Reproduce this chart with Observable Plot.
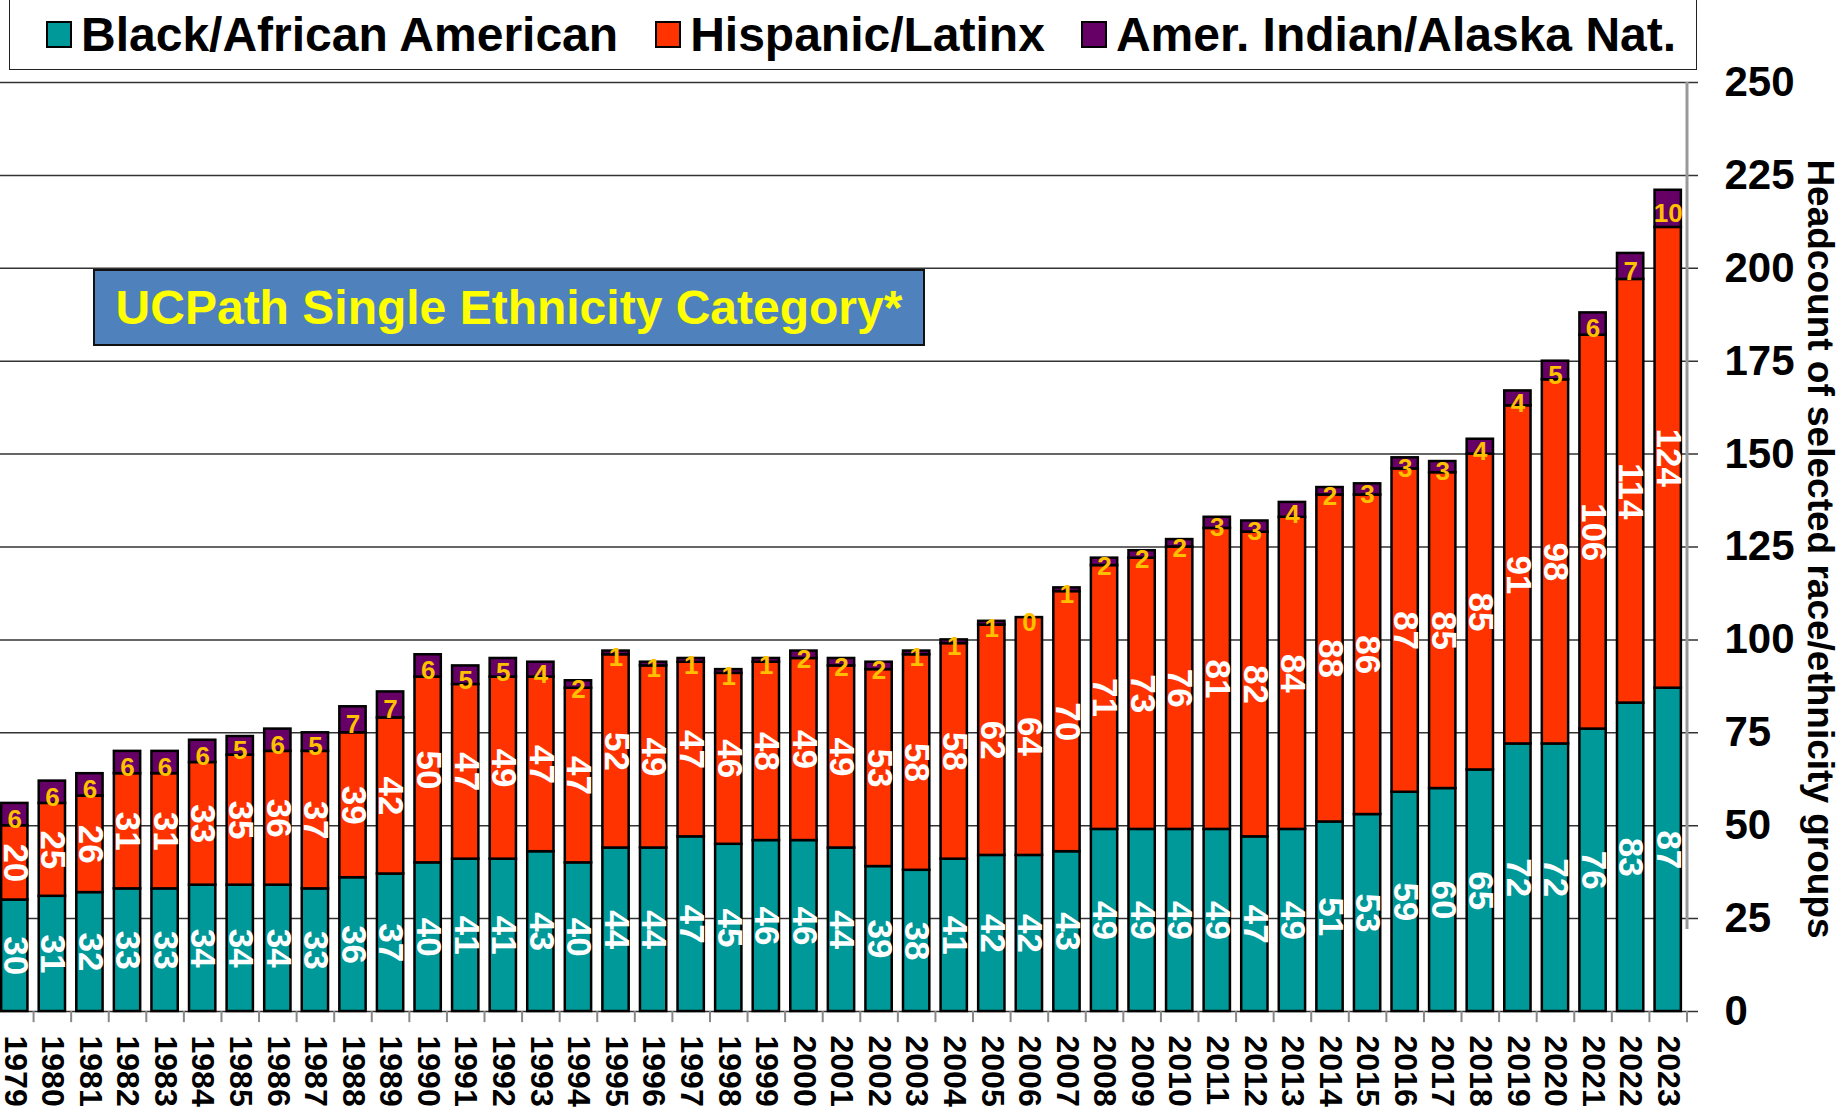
<!DOCTYPE html>
<html>
<head>
<meta charset="utf-8">
<script src="https://cdn.jsdelivr.net/npm/d3@7"></script>
<script src="https://cdn.jsdelivr.net/npm/@observablehq/plot@0.6"></script>
<style>
  html, body { margin: 0; padding: 0; background: #fff; }
  #wrap { position: relative; width: 1839px; height: 1110px; font-family: "Liberation Sans", Arial, sans-serif; }
  #legend { position: absolute; left: 9px; top: -2px; width: 1688px; height: 72px; border: 1.5px solid #222; background: #fff;
            display: flex; align-items: center; box-sizing: border-box; font-weight: bold; font-size: 48px; color: #000; }
  .item { display: flex; align-items: center; }
  .sw { width: 26px; height: 27px; border: 2px solid #000; box-sizing: border-box; margin-right: 9px; }
  #note { position: absolute; left: 93px; top: 269px; width: 832px; height: 77px; background: #4F81BD; border: 2px solid #111;
          box-sizing: border-box; display: flex; align-items: center; justify-content: center;
          color: #FFFF00; font-weight: bold; font-size: 48px; }
</style>
</head>
<body>
<div id="wrap">
  <div id="chart"></div>
  <div id="legend"></div>
  <div id="note"></div>
</div>
<script>
const years = ["1979","1980","1981","1982","1983","1984","1985","1986","1987","1988","1989","1990","1991","1992","1993","1994","1995","1996","1997","1998","1999","2000","2001","2002","2003","2004","2005","2006","2007","2008","2009","2010","2011","2012","2013","2014","2015","2016","2017","2018","2019","2020","2021","2022","2023"];
const black = [30,31,32,33,33,34,34,34,33,36,37,40,41,41,43,40,44,44,47,45,46,46,44,39,38,41,42,42,43,49,49,49,49,47,49,51,53,59,60,65,72,72,76,83,87];
const hispanic = [20,25,26,31,31,33,35,36,37,39,42,50,47,49,47,47,52,49,47,46,48,49,49,53,58,58,62,64,70,71,73,76,81,82,84,88,86,87,85,85,91,98,106,114,124];
const aian = [6,6,6,6,6,6,5,6,5,7,7,6,5,5,4,2,1,1,1,1,1,2,2,2,1,1,1,0,1,2,2,2,3,3,4,2,3,3,3,4,4,5,6,7,10];
const groups = ["Black/African American", "Hispanic/Latinx", "Amer. Indian/Alaska Nat."];
const colors = ["#009999", "#FF3300", "#660066"];
const yTicks = [0,25,50,75,100,125,150,175,200,225,250];
const yTitle = "Headcount of selected race/ethnicity groups";
const noteText = "UCPath Single Ethnicity Category*";

const series = [black, hispanic, aian];
const data = [];
years.forEach((yr, i) => groups.forEach((g, k) => data.push({year: yr, group: g, value: series[k][i]})));

const step = 1691 / 45;
const font = "'Liberation Sans', Arial, sans-serif";

const chart = Plot.plot({
  width: 1839,
  height: 1110,
  marginLeft: 0,
  marginRight: 153,
  marginTop: 82,
  marginBottom: 99,
  style: {fontFamily: font, background: "white", overflow: "visible"},
  x: {domain: years, range: [-4.5, 1686.5], round: false, paddingInner: 0.3, paddingOuter: 0.15, label: null},
  y: {domain: [0, 250], label: null},
  color: {domain: groups, range: colors},
  marks: [
    Plot.ruleY(yTicks, {stroke: "#333", strokeWidth: 1.5, insetRight: -12}),
    Plot.ruleX(years, {x: d => d, dx: step / 2, y1: 0, y2: -3, stroke: "#888", strokeWidth: 2}),
    Plot.ruleX(years.slice(-1), {x: d => d, dx: step / 2, y1: 0, y2: 250, insetTop: -82, stroke: "#999", strokeWidth: 3}),
    Plot.barY(data, {x: "year", y: "value", fill: "group", order: groups, stroke: "black", strokeWidth: 2.5}),
    Plot.text(data, Plot.stackY({x: "year", y: "value", z: "group", order: groups,
      text: d => d.group === groups[2] ? null : String(d.value),
      rotate: 90, fill: "white", fontSize: 35, fontWeight: "bold"})),
    Plot.text(data, Plot.stackY({x: "year", y: "value", z: "group", order: groups,
      text: d => d.group === groups[2] ? String(d.value) : null,
      dy: 5, fill: "#FFC000", fontSize: 26, fontWeight: "bold"})),
    Plot.axisX({tickSize: 0, tickPadding: 24, tickRotate: 90, fontSize: 32, fontWeight: "bold", fill: "#000"}),
    Plot.axisY({anchor: "right", ticks: yTicks, tickSize: 0, tickPadding: 38, fontSize: 42, fontWeight: "bold", fill: "#000", label: null}),
    Plot.text([yTitle], {frameAnchor: "right", textAnchor: "middle", dx: 133, dy: 2, rotate: 90, fontSize: 37, fontWeight: "bold", fill: "#000"})
  ]
});
document.getElementById("chart").appendChild(chart);

const legend = document.getElementById("legend");
const gaps = [36, 37, 36];
groups.forEach((g, k) => {
  const it = document.createElement("div");
  it.className = "item";
  it.style.marginLeft = gaps[k] + "px";
  const sw = document.createElement("div");
  sw.className = "sw";
  sw.style.background = colors[k];
  const tx = document.createElement("span");
  tx.textContent = g;
  it.appendChild(sw);
  it.appendChild(tx);
  legend.appendChild(it);
});
document.getElementById("note").textContent = noteText;
</script>
</body>
</html>
